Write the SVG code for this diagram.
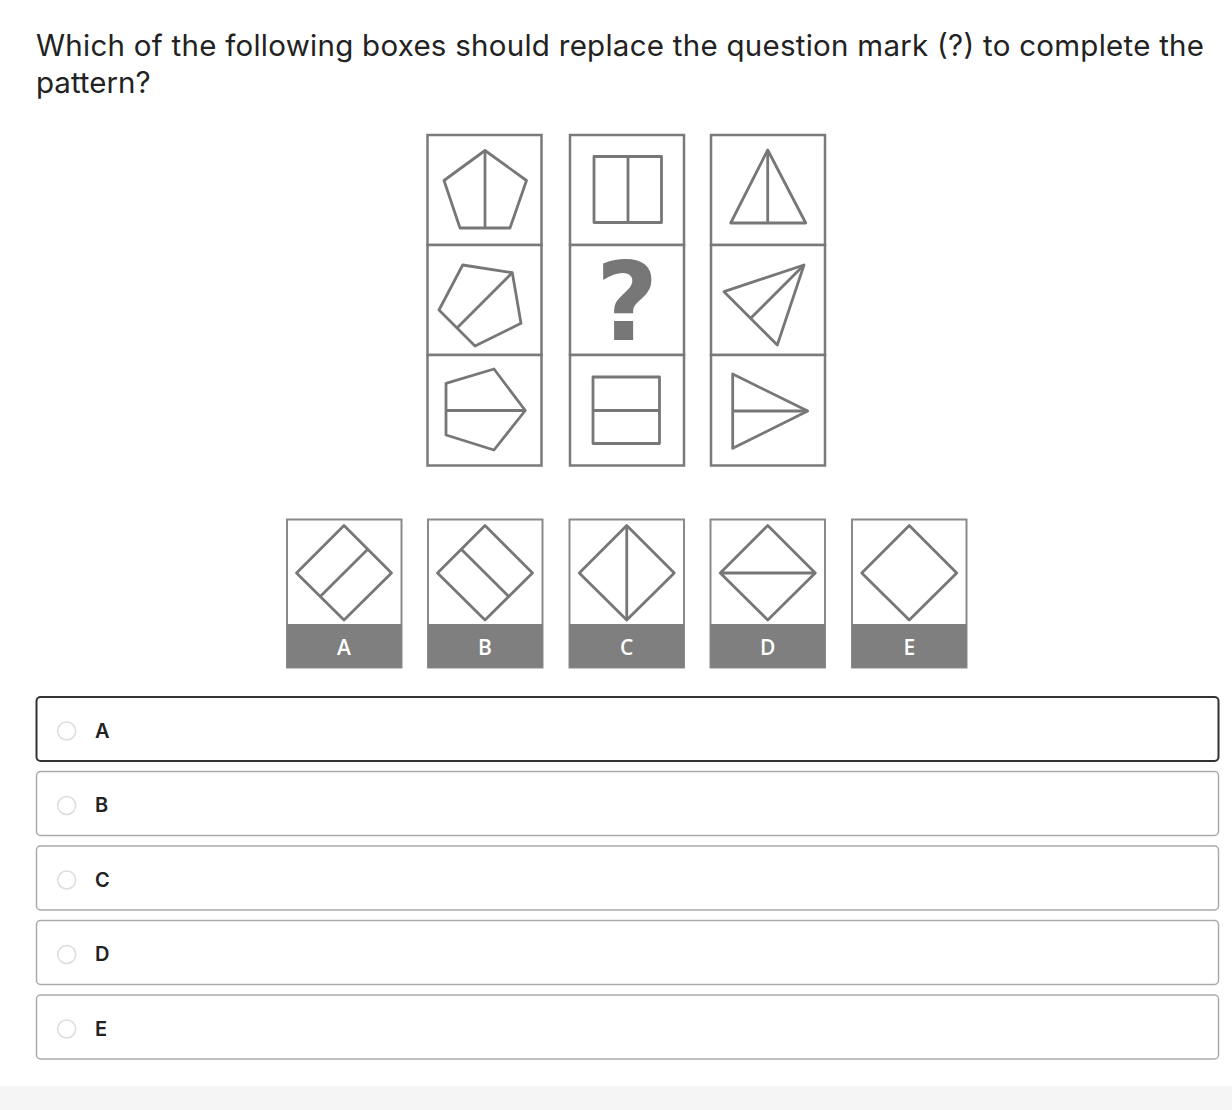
<svg xmlns="http://www.w3.org/2000/svg" width="1232" height="1110" viewBox="0 0 1232 1110">
<style>
.cell{fill:#fff;stroke:#7a7a7a;stroke-width:2.5}
.sh{fill:none;stroke:#777;stroke-width:2.8;stroke-linejoin:round}
.ans{fill:#fff;stroke:#8a8a8a;stroke-width:2}
.band{fill:#7f7f7f}
.al{font-family:"Open Sans","Liberation Sans",sans-serif;font-weight:600;font-size:21px;fill:#fff;text-anchor:middle}
.opt{fill:#fff;stroke:#aaa;stroke-width:1.5}
.radio{fill:#fff;stroke:#ddd;stroke-width:1.5}
.ol{font-family:"Inter","Liberation Sans",sans-serif;font-weight:600;font-size:20px;fill:#222}
.title{font-family:"Inter","Liberation Sans",sans-serif;font-size:29.5px;fill:#222}
</style>
<rect width="1232" height="1110" fill="#fff"/>
<text class="title" x="36" y="56" textLength="1168" lengthAdjust="spacing">Which of the following boxes should replace the question mark (?) to complete the</text>
<text class="title" x="36" y="93">pattern?</text>

<g id="grid">
  <g id="col1">
    <rect class="cell" x="427.5" y="135" width="114" height="110"/>
    <rect class="cell" x="427.5" y="245" width="114" height="110"/>
    <rect class="cell" x="427.5" y="355" width="114" height="110.5"/>
    <polygon class="sh" points="485,150.5 526.5,180.5 510,228 460,228 444,180.5"/>
    <line class="sh" x1="485" y1="150.5" x2="485" y2="228"/>
    <polygon class="sh" points="462.7,265 512.3,272.7 521,323.3 475,346 439,310"/>
    <line class="sh" x1="512.3" y1="272.7" x2="457" y2="328"/>
    <polygon class="sh" points="446,383.3 494,369 525.3,410.5 494,450 446,435"/>
    <line class="sh" x1="446" y1="410.5" x2="525.3" y2="410.5"/>
  </g>
  <g id="col2">
    <rect class="cell" x="570" y="135" width="114" height="110"/>
    <rect class="cell" x="570" y="245" width="114" height="110"/>
    <rect class="cell" x="570" y="355" width="114" height="110.5"/>
    <rect class="sh" x="594" y="156.5" width="67.5" height="66"/>
    <line class="sh" x1="628" y1="156.5" x2="628" y2="222.5"/>
    <text x="627" y="340" font-family="DejaVu Sans, sans-serif" font-weight="bold" font-size="108" fill="#777" text-anchor="middle">?</text>
    <rect class="sh" x="593" y="377" width="66.5" height="66.5"/>
    <line class="sh" x1="593" y1="410.5" x2="659.5" y2="410.5"/>
  </g>
  <g id="col3">
    <rect class="cell" x="711" y="135" width="114" height="110"/>
    <rect class="cell" x="711" y="245" width="114" height="110"/>
    <rect class="cell" x="711" y="355" width="114" height="110.5"/>
    <polygon class="sh" points="767.7,150 805.7,223 730.7,223"/>
    <line class="sh" x1="767.7" y1="150" x2="767.7" y2="223"/>
    <polygon class="sh" points="724,291.7 804,265 777.3,345"/>
    <line class="sh" x1="804" y1="265" x2="750.7" y2="318.3"/>
    <polygon class="sh" points="732.7,374 807.7,411 732.7,448.3"/>
    <line class="sh" x1="732.7" y1="411" x2="807.7" y2="411"/>
  </g>
</g>

<g id="answers">
  <g id="ansA">
    <rect class="ans" x="287" y="519.5" width="114.5" height="148"/>
    <rect class="band" x="287" y="624" width="114.5" height="43.5"/>
    <polygon class="sh" points="344,525.5 391.5,573 344,620 296.5,573"/>
    <line class="sh" x1="367.75" y1="549.25" x2="320.25" y2="596.5"/>
    <text class="al" x="344" y="655">A</text>
  </g>
  <g id="ansB">
    <rect class="ans" x="428" y="519.5" width="114.5" height="148"/>
    <rect class="band" x="428" y="624" width="114.5" height="43.5"/>
    <polygon class="sh" points="485,525.5 532.5,573 485,620 437.5,573"/>
    <line class="sh" x1="461.25" y1="549.25" x2="508.75" y2="596.5"/>
    <text class="al" x="485" y="655">B</text>
  </g>
  <g id="ansC">
    <rect class="ans" x="569.5" y="519.5" width="114.5" height="148"/>
    <rect class="band" x="569.5" y="624" width="114.5" height="43.5"/>
    <polygon class="sh" points="626.75,525.5 674.25,573 626.75,620 579.25,573"/>
    <line class="sh" x1="626.75" y1="525.5" x2="626.75" y2="620"/>
    <text class="al" x="626.75" y="655">C</text>
  </g>
  <g id="ansD">
    <rect class="ans" x="710.5" y="519.5" width="114.5" height="148"/>
    <rect class="band" x="710.5" y="624" width="114.5" height="43.5"/>
    <polygon class="sh" points="767.75,525.5 815.25,573 767.75,620 720.25,573"/>
    <line class="sh" x1="720.25" y1="573" x2="815.25" y2="573"/>
    <text class="al" x="767.75" y="655">D</text>
  </g>
  <g id="ansE">
    <rect class="ans" x="852" y="519.5" width="114.5" height="148"/>
    <rect class="band" x="852" y="624" width="114.5" height="43.5"/>
    <polygon class="sh" points="909.25,525.5 956.75,573 909.25,620 861.75,573"/>
    <text class="al" x="909.25" y="655">E</text>
  </g>
</g>

<g id="options">
  <g id="optA">
    <rect x="36.5" y="697" width="1182" height="64" rx="4" fill="#fff" stroke="#333" stroke-width="2"/>
    <circle class="radio" cx="66.7" cy="731" r="9"/>
    <text class="ol" x="95" y="737.5">A</text>
  </g>
  <g id="optB">
    <rect class="opt" x="36.5" y="771.5" width="1182" height="64" rx="4"/>
    <circle class="radio" cx="66.7" cy="805.5" r="9"/>
    <text class="ol" x="95" y="812">B</text>
  </g>
  <g id="optC">
    <rect class="opt" x="36.5" y="846" width="1182" height="64" rx="4"/>
    <circle class="radio" cx="66.7" cy="880" r="9"/>
    <text class="ol" x="95" y="886.5">C</text>
  </g>
  <g id="optD">
    <rect class="opt" x="36.5" y="920.5" width="1182" height="64" rx="4"/>
    <circle class="radio" cx="66.7" cy="954.5" r="9"/>
    <text class="ol" x="95" y="961">D</text>
  </g>
  <g id="optE">
    <rect class="opt" x="36.5" y="995" width="1182" height="64" rx="4"/>
    <circle class="radio" cx="66.7" cy="1029" r="9"/>
    <text class="ol" x="95" y="1035.5">E</text>
  </g>
</g>
<rect x="0" y="1086" width="1232" height="24" fill="#f5f5f5"/>
</svg>
